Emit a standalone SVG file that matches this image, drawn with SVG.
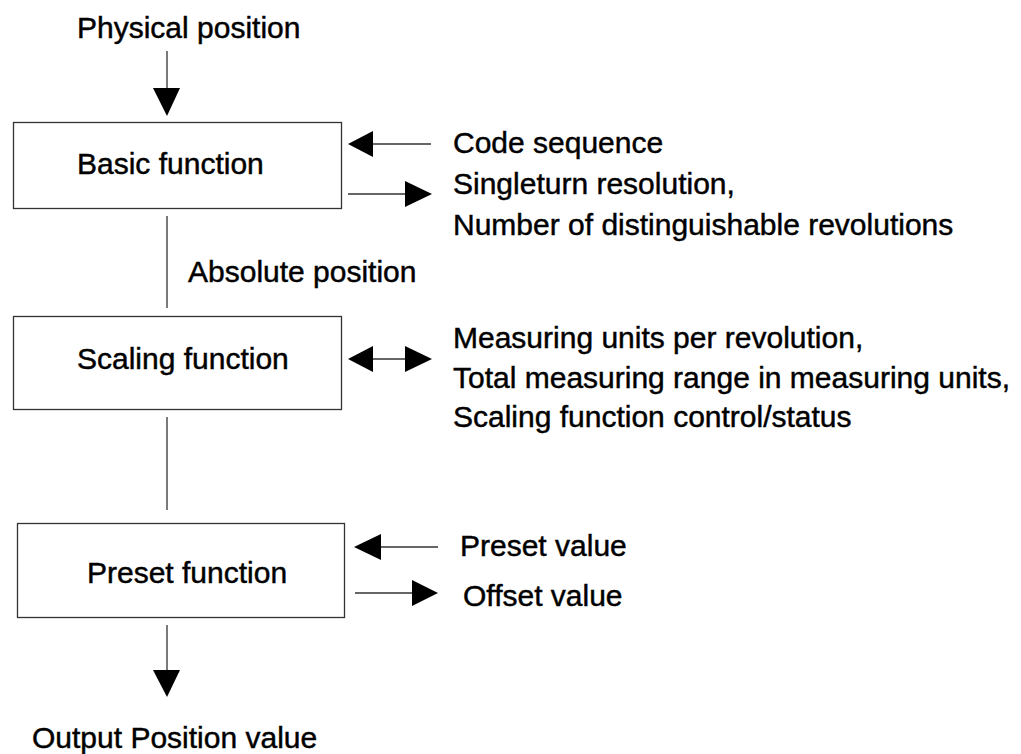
<svg xmlns="http://www.w3.org/2000/svg" width="1021" height="754" viewBox="0 0 1021 754">
  <defs>
    <style>
      text { font-family: "Liberation Sans", Arial, sans-serif; font-size: 30px; fill: #000; stroke: #000; stroke-width: 0.45px; }
      .box { fill: #fff; stroke: #333; stroke-width: 1.3; }
      .wire { stroke: #333; stroke-width: 1.3; fill: none; }
      .head { fill: #000; }
    </style>
  </defs>
  <rect width="1021" height="754" fill="#fff"/>

  <text x="77" y="38">Physical position</text>

  <g id="basic">
    <rect class="box" x="13.5" y="122.5" width="328" height="86"/>
    <text x="77" y="174">Basic function</text>
  </g>

  <g id="scaling">
    <rect class="box" x="13.5" y="316.5" width="328" height="93"/>
    <text x="77" y="369">Scaling function</text>
  </g>

  <g id="preset">
    <rect class="box" x="17.5" y="523.5" width="327" height="94"/>
    <text x="87" y="583">Preset function</text>
  </g>

  <g id="connectors">
    <!-- input into basic -->
    <line class="wire" x1="167" y1="51" x2="167" y2="90"/>
    <polygon class="head" points="153,88 180,88 167,116"/>
    <!-- basic to scaling -->
    <line class="wire" x1="167" y1="216" x2="167" y2="308"/>
    <!-- scaling to preset -->
    <line class="wire" x1="167" y1="417" x2="167" y2="510"/>
    <!-- preset to output -->
    <line class="wire" x1="167" y1="625" x2="167" y2="672"/>
    <polygon class="head" points="153,670 180,670 167,697"/>

    <!-- basic side arrows -->
    <line class="wire" x1="371" y1="144" x2="431" y2="144"/>
    <polygon class="head" points="348,144 373,131 373,157"/>
    <line class="wire" x1="348" y1="194" x2="407" y2="194"/>
    <polygon class="head" points="432,194 405,181 405,207"/>

    <!-- scaling double arrow -->
    <line class="wire" x1="371" y1="359" x2="407" y2="359"/>
    <polygon class="head" points="348,359 373,346 373,372"/>
    <polygon class="head" points="432,359 405,346 405,372"/>

    <!-- preset side arrows -->
    <line class="wire" x1="379" y1="547" x2="438" y2="547"/>
    <polygon class="head" points="354,547 381,534 381,560"/>
    <line class="wire" x1="355" y1="593" x2="414" y2="593"/>
    <polygon class="head" points="438,593 412,580 412,606"/>
  </g>

  <text x="188" y="282">Absolute position</text>

  <text x="453" y="153">Code sequence</text>
  <text x="453" y="194">Singleturn resolution,</text>
  <text x="453" y="235">Number of distinguishable revolutions</text>

  <text x="453" y="348">Measuring units per revolution,</text>
  <text x="453" y="388">Total measuring range in measuring units,</text>
  <text x="453" y="427">Scaling function control/status</text>

  <text x="460" y="556">Preset value</text>
  <text x="463" y="606">Offset value</text>

  <text x="32" y="748">Output Position value</text>
</svg>
